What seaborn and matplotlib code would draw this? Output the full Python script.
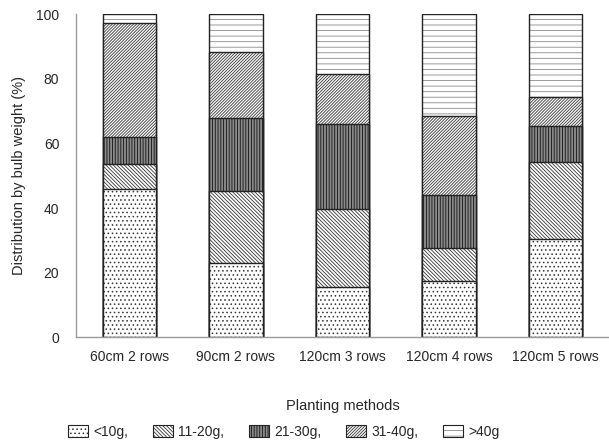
import matplotlib
matplotlib.use("Agg")
import matplotlib.pyplot as plt
from matplotlib.patches import Patch
import seaborn as sns
import numpy as np
import pandas as pd

methods = ["60cm 2 rows", "90cm 2 rows", "120cm 3 rows", "120cm 4 rows", "120cm 5 rows"]
classes = ["<10g,", "11-20g,", "21-30g,", "31-40g,", ">40g"]
lt10 = [46.0, 23.0, 15.5, 17.5, 30.3]
g11_20 = [7.6, 22.3, 24.3, 10.0, 24.1]
g21_30 = [8.3, 22.7, 26.2, 16.5, 11.1]
g31_40 = [35.4, 20.3, 15.6, 24.5, 8.9]
gt40 = [2.7, 11.7, 18.4, 31.5, 25.6]

series = [lt10, g11_20, g21_30, g31_40, gt40]
hatches = ["....", "\\" * 9, "|" * 6, "/" * 11, "---"]
faces = ["white", "white", "#8a8a8a", "white", "white"]
hcolors = ["#333333", "#333333", "#111111", "#333333", "#8a8a8a"]

sns.set_style("white")
plt.rcParams["font.family"] = ["Liberation Sans", "DejaVu Sans"]
plt.rcParams["hatch.linewidth"] = 0.6

fig = plt.figure(figsize=(6.09, 4.43), dpi=100)
ax = fig.add_axes([0.1248, 0.2386, 0.8752, 0.7291])

cum = np.cumsum(np.array(series), axis=0)
# draw tallest stack first, smaller ones over it
for i in range(len(series) - 1, -1, -1):
    df = pd.DataFrame({"method": methods, "value": cum[i]})
    n_before = len(ax.patches)
    sns.barplot(data=df, x="method", y="value", ax=ax, width=0.5,
                color=faces[i], edgecolor="#222222", linewidth=1.0)
    for p in ax.patches[n_before:]:
        p.set_facecolor(faces[i])
        p.set_hatch(hatches[i])
        p._hatch_color = matplotlib.colors.to_rgba(hcolors[i])

ax.set_ylim(0, 100)
ax.set_xlim(-0.5, 4.5)
ax.set_yticks([0, 20, 40, 60, 80, 100])
ax.set_xticks(np.arange(0.5, 4.5, 1.0), minor=True)
ax.tick_params(axis="x", which="major", length=0, pad=9, labelsize=10)
ax.tick_params(axis="x", which="minor", length=3, direction="in", color="#999999")
ax.tick_params(axis="y", length=4, direction="in", color="#999999", pad=12, labelsize=10)
for s in ["top", "right"]:
    ax.spines[s].set_visible(False)
for s in ["left", "bottom"]:
    ax.spines[s].set_color("#999999")
    ax.spines[s].set_linewidth(1.0)

ax.set_xlabel("Planting methods", fontsize=10.5, labelpad=25)
ax.set_ylabel("Distribution by bulb weight (%)", fontsize=10.5, labelpad=7)

handles = [Patch(facecolor=faces[i], edgecolor="#222222", hatch=hatches[i], linewidth=0.8)
           for i in range(len(classes))]
leg = fig.legend(handles, classes, loc="center", bbox_to_anchor=(284 / 609, 1 - 432 / 443),
                 ncol=5, frameon=False, fontsize=10, handlelength=1.4, handleheight=0.9,
                 handletextpad=0.4, columnspacing=1.8)
for h, c in zip(leg.get_patches(), hcolors):
    h._hatch_color = matplotlib.colors.to_rgba(c)

fig.savefig("out.png", dpi=100)
